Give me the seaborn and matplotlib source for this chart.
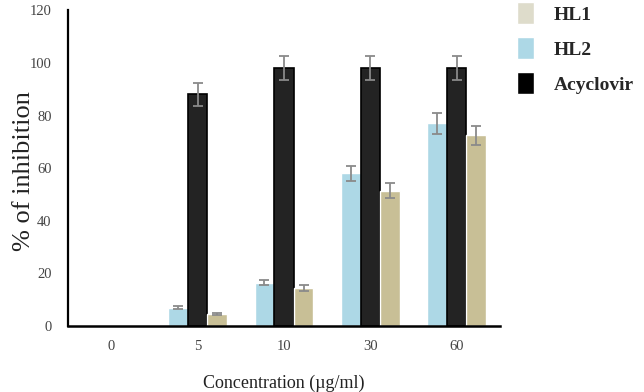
import numpy as np
import pandas as pd
import seaborn as sns
import matplotlib.pyplot as plt
from matplotlib.patches import Patch

# data
concentrations = ["0", "5", "10", "30", "60"]
hl2 = [0, 7, 16.5, 58, 77]
acyclovir = [0, 88, 98, 98, 98]
hl1 = [0, 4.6, 14.5, 51.5, 72.5]
hl2_err = [0, 0.5, 1, 3, 4]
acyclovir_err = [0, 4.5, 4.5, 4.5, 4.5]
hl1_err = [0, 0.5, 1, 3, 3.7]

series = ["HL2", "Acyclovir", "HL1"]
palette = {"HL2": "#add8e6", "Acyclovir": "#232323", "HL1": "#c8bf96"}

df = pd.DataFrame({
    "conc": concentrations * 3,
    "compound": np.repeat(series, len(concentrations)),
    "value": hl2 + acyclovir + hl1,
    "err": hl2_err + acyclovir_err + hl1_err,
})

sns.set_style("white")
plt.rcParams["font.family"] = ["Liberation Serif", "DejaVu Serif"]

fig = plt.figure(figsize=(6.44, 3.92), dpi=100)
ax = fig.add_axes([0.106, 0.168, 0.67, 0.806])

sns.barplot(data=df, x="conc", y="value", hue="compound", hue_order=series,
            order=concentrations, palette=palette, width=0.68, errorbar=None,
            saturation=1, legend=False, ax=ax)

# black outline only on the acyclovir bars, then error bars on every bar
for cont, name in zip(ax.containers, series):
    sub = df[df["compound"] == name]
    xs = [p.get_x() + p.get_width() / 2 for p in cont.patches]
    if name == "Acyclovir":
        for p in cont.patches:
            if p.get_height() > 0:
                p.set_edgecolor("black")
                p.set_linewidth(1.2)
    ax.errorbar(xs[1:], sub["value"].values[1:], yerr=sub["err"].values[1:],
                fmt="none", ecolor="#8a8a8a", elinewidth=1.3, capsize=3.5,
                capthick=1.3)

ax.set_ylim(0, 120)
ax.set_yticks(range(0, 121, 20))
ax.set_xlim(-0.5, 4.5)
sns.despine(ax=ax)
ax.spines["left"].set_linewidth(1.6)
ax.spines["bottom"].set_linewidth(1.8)
ax.spines["left"].set_color("black")
ax.spines["bottom"].set_color("black")
ax.tick_params(axis="both", length=0, labelsize=10.5, colors="#444444", pad=10)
ax.tick_params(axis="y", pad=12)
ax.set_xlabel("Concentration (\u00b5g/ml)", fontsize=13, color="#222222")
ax.xaxis.set_label_coords(0.5, -0.155)
ax.set_ylabel("% of inhibition", fontsize=19, color="#222222")
ax.yaxis.set_label_coords(-0.078, 0.49)

handles = [Patch(facecolor="#dedccb", label="HL1"),
           Patch(facecolor="#add8e6", label="HL2"),
           Patch(facecolor="black", label="Acyclovir")]
fig.legend(handles=handles, loc="upper left", bbox_to_anchor=(0.775, 1.04),
           frameon=False, prop={"weight": "bold", "size": 14},
           handlelength=0.9, handleheight=1.4, labelspacing=0.65, handletextpad=1.0)

fig.savefig("out.png", dpi=100)
